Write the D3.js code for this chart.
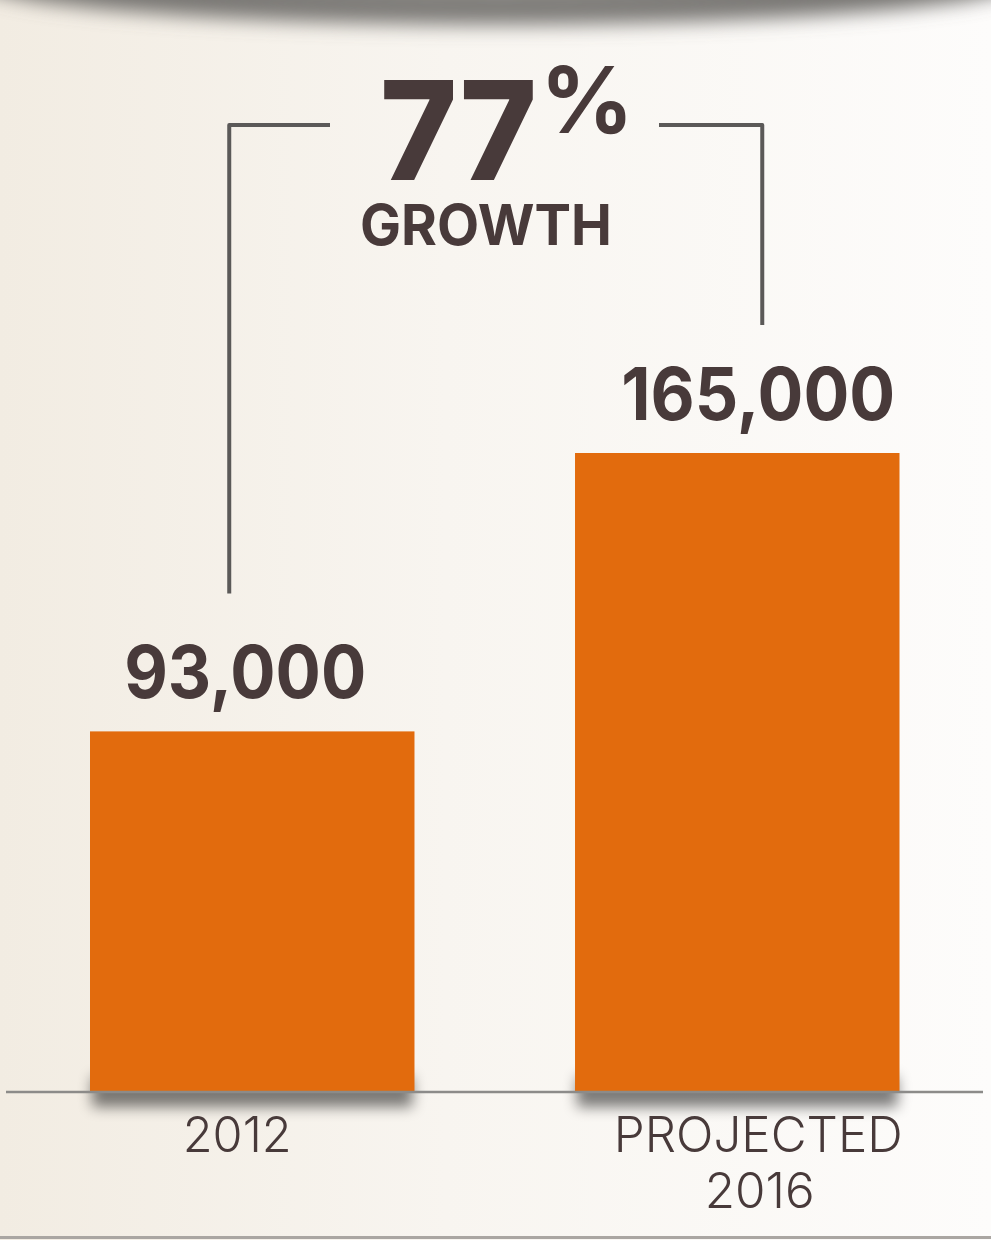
<!DOCTYPE html>
<html>
<head>
<meta charset="utf-8">
<script src="https://cdn.jsdelivr.net/npm/d3@7"></script>
<style>
  html, body { margin: 0; padding: 0; background: #f7f3ee; }
  svg { display: block; }
</style>
</head>
<body>
<svg id="chart" width="991" height="1240"></svg>
<script>
// Data
const categories = ["2012", "PROJECTED 2016"];
const values = [93000, 165000];
const categoryLines = [["2012"], ["PROJECTED", "2016"]];
const growthWord = "GROWTH";

// Layout
const W = 991, H = 1240;
const baseY = 1091;
const topY = 453;
const ink = "#483a3a";
const barColor = "#e26b0d";
const font = "Inter, Lato, 'Open Sans', sans-serif";
const valueShift = [-7, 21];   // horizontal nudge of value labels from bar centre
const catShift = [-15, 21];    // horizontal nudge of category labels from bar centre

const svg = d3.select("#chart");
const defs = svg.append("defs");

// background paper tone
const bg = defs.append("linearGradient").attr("id", "bg")
  .attr("x1", 0).attr("y1", 0).attr("x2", 1).attr("y2", 0);
bg.append("stop").attr("offset", "0%").attr("stop-color", "#f2ece2");
bg.append("stop").attr("offset", "45%").attr("stop-color", "#f8f5f0");
bg.append("stop").attr("offset", "100%").attr("stop-color", "#fdfcfb");

const blurTop = defs.append("filter").attr("id", "blurTop")
  .attr("x", "-20%").attr("y", "-200%").attr("width", "140%").attr("height", "500%");
blurTop.append("feGaussianBlur").attr("stdDeviation", 10);

const blurBar = defs.append("filter").attr("id", "blurBar")
  .attr("x", "-20%").attr("y", "-100%").attr("width", "140%").attr("height", "300%");
blurBar.append("feGaussianBlur").attr("stdDeviation", 7);

const topShade = defs.append("radialGradient").attr("id", "topShade");
topShade.append("stop").attr("offset", "0%").attr("stop-color", "#9a9894");
topShade.append("stop").attr("offset", "100%").attr("stop-color", "#6c6a67");

svg.append("rect").attr("width", W).attr("height", H).attr("fill", "url(#bg)");

// shadow along the top edge
svg.append("ellipse")
  .attr("cx", 500).attr("cy", -22).attr("rx", 530).attr("ry", 46)
  .attr("fill", "url(#topShade)")
  .attr("filter", "url(#blurTop)");

// Scales
const x = d3.scaleBand()
  .domain(categories)
  .range([90, 899.5])
  .paddingInner(0.331)
  .paddingOuter(0);

const y = d3.scaleLinear()
  .domain([0, d3.max(values)])
  .range([baseY, topY]);

const data = categories.map((c, i) => ({ cat: c, value: values[i], i }));
const fmt = d3.format(",");

// soft shadows under bars
svg.append("g").selectAll("rect").data(data).join("rect")
  .attr("x", d => x(d.cat) + 2)
  .attr("width", x.bandwidth() - 4)
  .attr("y", baseY - 14)
  .attr("height", 30)
  .attr("fill", "#000")
  .attr("opacity", 0.5)
  .attr("filter", "url(#blurBar)");

// bars
svg.append("g").selectAll("rect").data(data).join("rect")
  .attr("x", d => x(d.cat))
  .attr("width", x.bandwidth())
  .attr("y", d => y(d.value))
  .attr("height", d => y(0) - y(d.value))
  .attr("fill", barColor);

// baseline
svg.append("line")
  .attr("x1", 6).attr("x2", 983)
  .attr("y1", baseY + 1).attr("y2", baseY + 1)
  .attr("stroke", "#8c8b89").attr("stroke-width", 2.5);

// bottom rule
svg.append("line")
  .attr("x1", 0).attr("x2", W)
  .attr("y1", 1237.5).attr("y2", 1237.5)
  .attr("stroke", "#aaa6a2").attr("stroke-width", 3);

// value labels
const valueWidths = [242, 274];
svg.append("g").selectAll("text").data(data).join("text")
  .attr("x", d => x(d.cat) + x.bandwidth() / 2 + valueShift[d.i])
  .attr("y", d => y(d.value) - 33)
  .attr("text-anchor", "middle")
  .attr("font-family", font)
  .attr("font-weight", 700)
  .attr("font-size", 73)
  .attr("textLength", d => valueWidths[d.i])
  .attr("lengthAdjust", "spacingAndGlyphs")
  .attr("fill", ink)
  .text(d => fmt(d.value));

// category labels
const catWidths = [[109], [289, 110]];
const catG = svg.append("g").selectAll("text").data(data).join("text")
  .attr("text-anchor", "middle")
  .attr("font-family", font)
  .attr("font-weight", 300)
  .attr("font-size", 49)
  .attr("fill", ink);
catG.selectAll("tspan").data(d => categoryLines[d.i].map((t, k) => ({ t, k, d })))
  .join("tspan")
  .attr("x", o => x(o.d.cat) + x.bandwidth() / 2 + catShift[o.d.i] + (o.k ? 1.5 : 0))
  .attr("y", o => baseY + 61 + o.k * 56)
  .attr("textLength", o => catWidths[o.d.i][o.k])
  .attr("lengthAdjust", "spacingAndGlyphs")
  .text(o => o.t);

// growth bracket
const leftX = x(categories[0]) + x.bandwidth() / 2 - 23;
const rightX = x(categories[1]) + x.bandwidth() / 2 + 25;
const bracketY = 125;
const bracket = d3.path();
bracket.moveTo(330, bracketY);
bracket.lineTo(leftX, bracketY);
bracket.lineTo(leftX, y(values[0]) - 138);
bracket.moveTo(659, bracketY);
bracket.lineTo(rightX, bracketY);
bracket.lineTo(rightX, y(values[1]) - 128);
svg.append("path")
  .attr("d", bracket.toString())
  .attr("fill", "none")
  .attr("stroke", "#5b5958")
  .attr("stroke-width", 4)
  .attr("stroke-linejoin", "round");

// growth figure
const growth = Math.round((values[1] / values[0] - 1) * 100);
svg.append("text")
  .attr("x", 458.5).attr("y", 180)
  .attr("text-anchor", "middle")
  .attr("font-family", font)
  .attr("font-weight", 800)
  .attr("font-size", 138)
  .attr("textLength", 157)
  .attr("lengthAdjust", "spacingAndGlyphs")
  .attr("fill", ink)
  .text(String(growth));

svg.append("text")
  .attr("x", 587).attr("y", 133)
  .attr("text-anchor", "middle")
  .attr("font-family", font)
  .attr("font-weight", 700)
  .attr("font-size", 92)
  .attr("fill", ink)
  .text("%");

svg.append("text")
  .attr("x", 486).attr("y", 245)
  .attr("text-anchor", "middle")
  .attr("font-family", font)
  .attr("font-weight", 700)
  .attr("font-size", 57)
  .attr("textLength", 252)
  .attr("lengthAdjust", "spacingAndGlyphs")
  .attr("fill", ink)
  .text(growthWord);
</script>
</body>
</html>
